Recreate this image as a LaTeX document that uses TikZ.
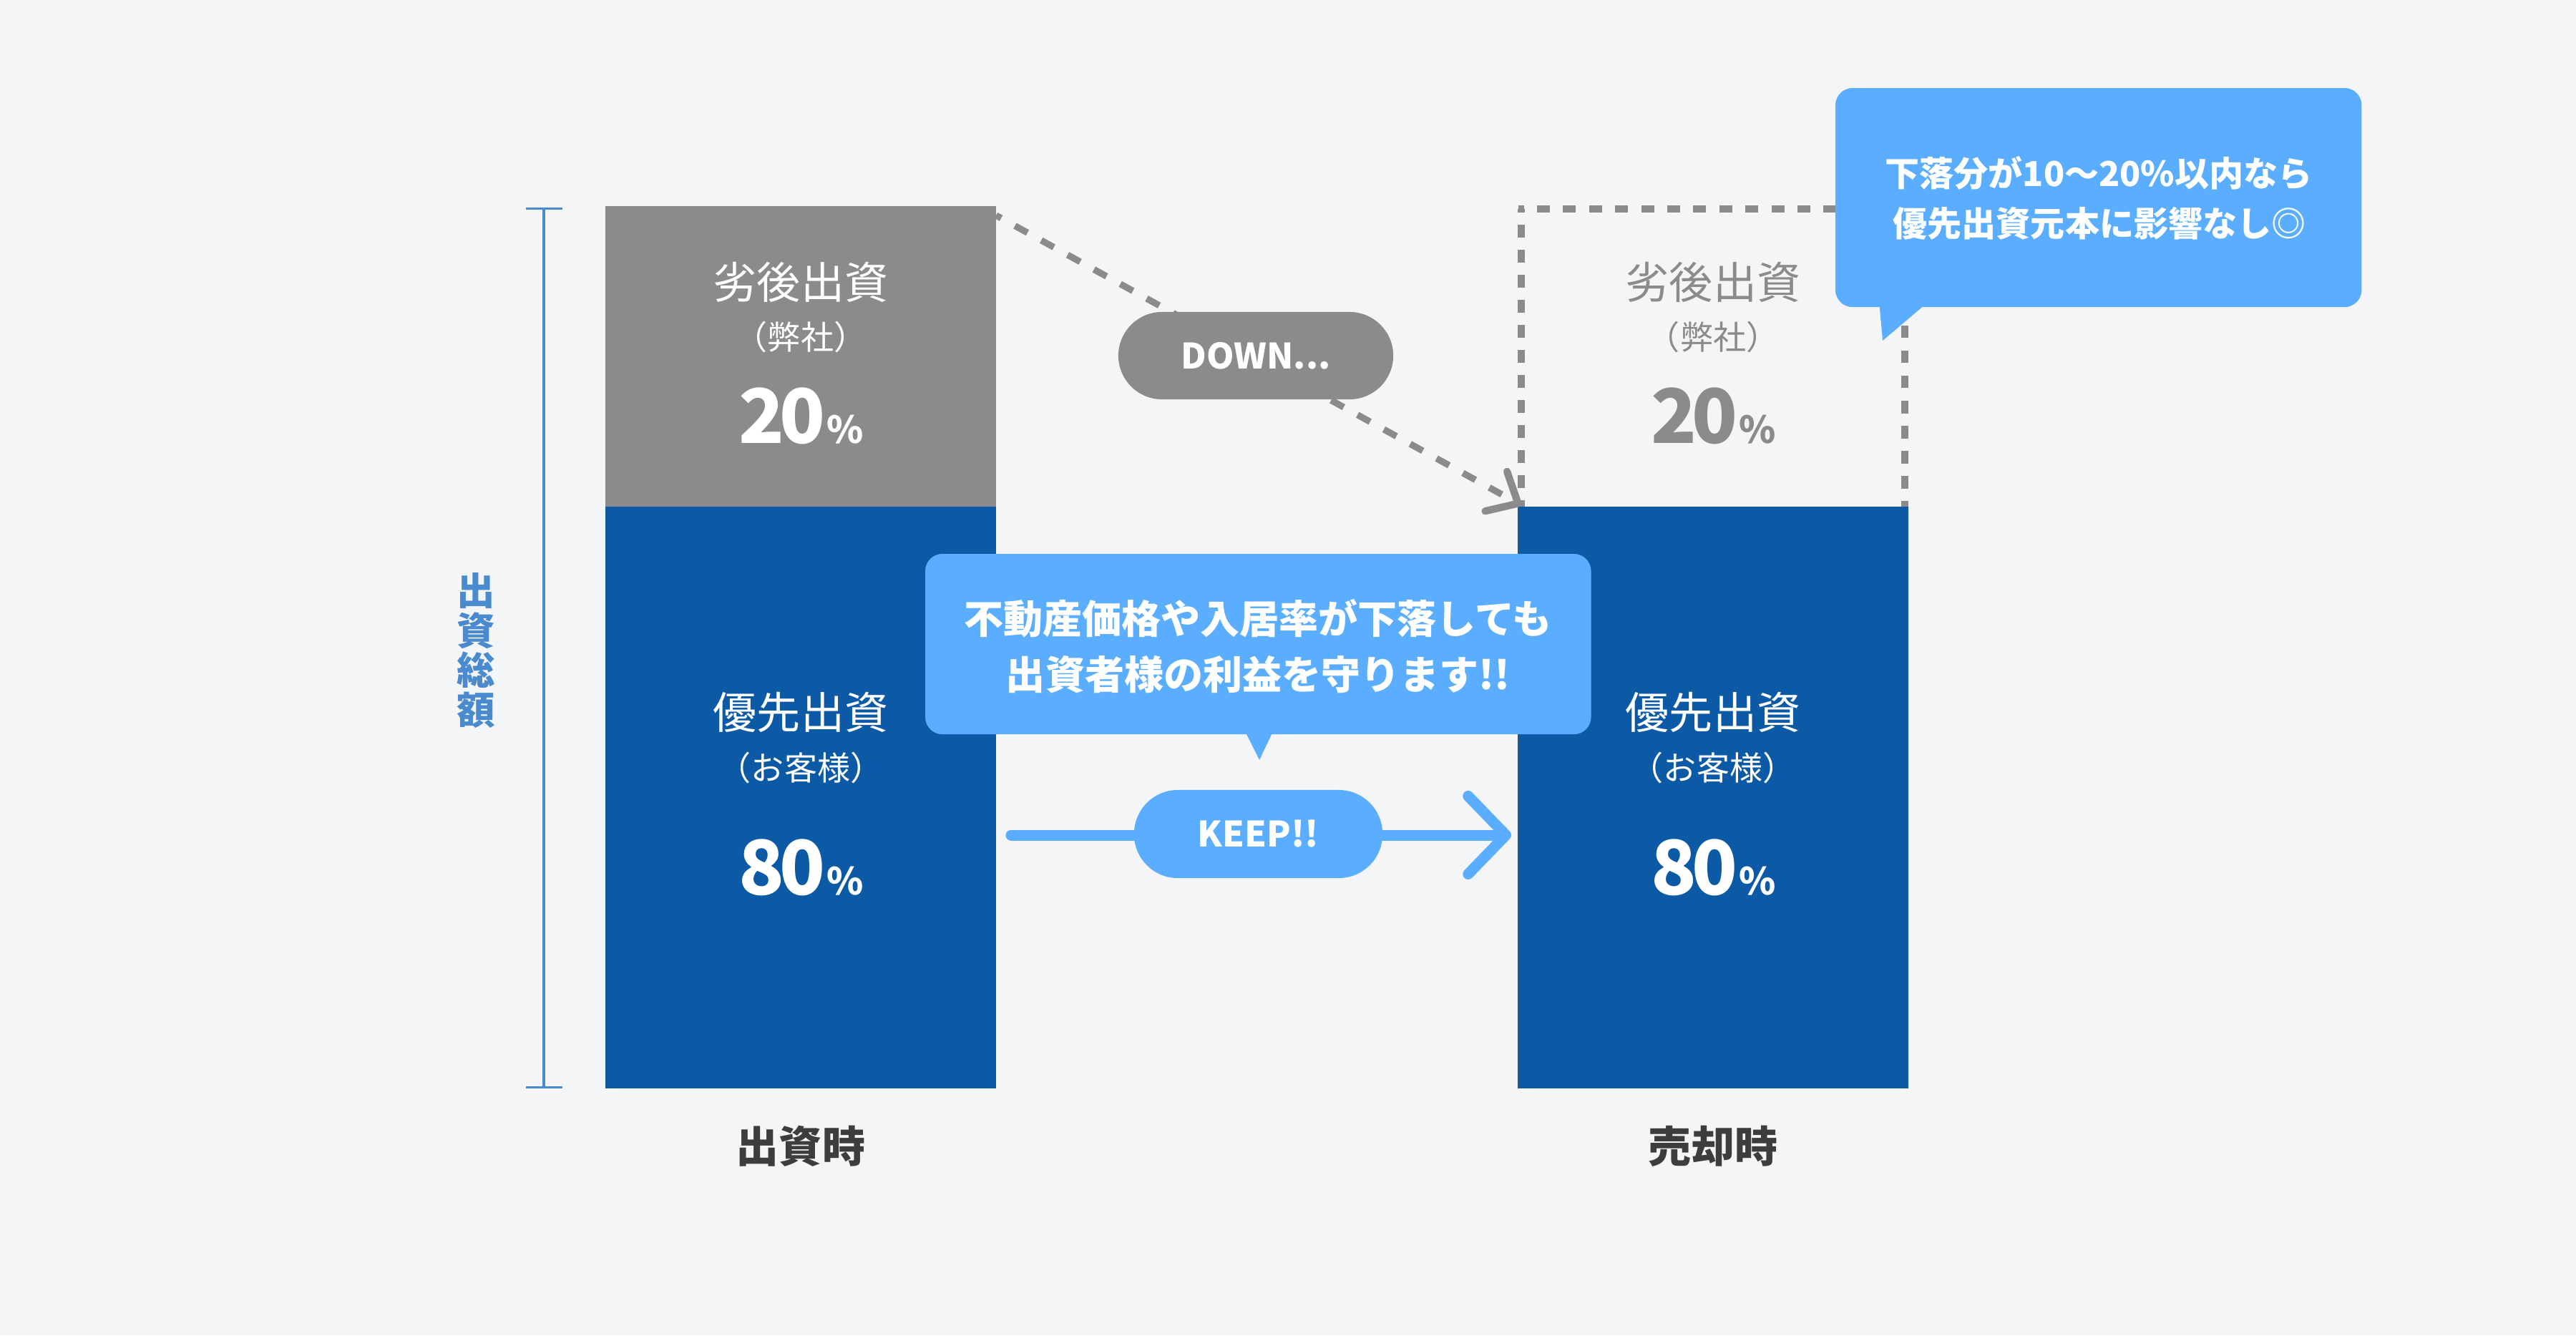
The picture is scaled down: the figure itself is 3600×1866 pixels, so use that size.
\documentclass[tikz,border=0pt]{standalone}
\usepackage{fontspec}
\setmainfont{Noto Sans CJK JP}
\usetikzlibrary{arrows.meta}
\definecolor{bgc}{HTML}{F4F5F7}
\definecolor{grayc}{HTML}{8B8B8B}
\definecolor{bluec}{HTML}{0C5AA6}
\definecolor{skyc}{HTML}{5BAEFF}
\definecolor{axisc}{HTML}{4A8BD0}
\definecolor{darkc}{HTML}{3D3D3D}
\newcommand\pxfont[1]{\fontsize{\the\dimexpr 0.28453pt*#1\relax}{\the\dimexpr 0.28453pt*#1*12/10\relax}\selectfont}
\newcommand\pct[2]{\bfseries\pxfont{105}#1\kern-2pt #2\kern0.6pt\pxfont{52}\%}
\tikzset{
  x=0.01cm,y=-0.01cm,
  lbl/.style={inner sep=0pt,outer sep=0pt,anchor=base},
  titletext/.style={lbl,font=\pxfont{61}},
  subtext/.style={lbl,font=\pxfont{46}},
  pcttext/.style={lbl},
  calloutone/.style={lbl,text=white,font=\bfseries\pxfont{55}},
  callouttwo/.style={lbl,text=white,font=\bfseries\pxfont{48.6}},
  captiontext/.style={lbl,text=darkc,font=\bfseries\pxfont{60}},
  barbox/.style={inner sep=0pt,outer sep=0pt,anchor=north west,minimum width=5.46cm},
  bubble/.style={inner sep=0pt,outer sep=0pt,anchor=north west,fill=skyc,rounded corners=0.24cm},
  pill/.style={inner sep=0pt,outer sep=0pt,text=white,font=\bfseries\pxfont{49.5},rounded corners=0.61cm},
  dashline/.style={draw=grayc,line width=2.6pt},
  sidedash/.style={dashline,dash pattern=on 5.01pt off 4.95pt},
  axisline/.style={draw=axisc,line width=0.9pt},
}
\begin{document}
\begin{tikzpicture}
\fill[bgc,use as bounding box] (0,0) rectangle (3600,1866);

% axis
\coordinate (axisTop) at (760,290);
\coordinate (axisBottom) at (760,1521);
\draw[axisline,{Bar[width=14.5pt]}-{Bar[width=14.5pt]}] (axisTop) -- (axisBottom);
\node[inner sep=0pt,text=axisc,align=center,font=\bfseries\fontsize{15.2pt}{15.9pt}\selectfont] (axisLabel) at (665,909) {出\\資\\総\\額};

% dashed outline of the right bar
\coordinate (dashA) at (2126,708);
\coordinate (dashB) at (2126,292);
\coordinate (dashB2) at (2121.5,292);
\coordinate (dashC) at (2662,292);
\coordinate (dashC2) at (2667,292);
\coordinate (dashD) at (2662,708);
\draw[sidedash,dash phase=3.7pt] (dashB) -- (dashA);
\draw[dashline,dash pattern=on 5.12pt off 5.23pt,dash phase=2.82pt] (dashB2) -- (dashC2);
\draw[sidedash,dash phase=2.73pt] (dashD) -- (dashC);

% bars
\node[barbox,fill=grayc,minimum height=4.2cm] (leftUpper) at (846,288) {};
\node[barbox,fill=bluec,minimum height=8.13cm] (leftLower) at (846,708) {};
\node[barbox,fill=bluec,minimum height=8.13cm] (rightLower) at (2121,708) {};

% connectors
\coordinate (downStart) at (1392,301);
\coordinate (downEnd) at (2126,706);
\draw[dashline,dash pattern=on 5.7pt off 6.26pt,dash phase=3.4pt,
  -{Straight Barb[length=10pt,width=18pt,line width=2.9pt,round]}] (downStart) -- (downEnd);
\coordinate (keepStart) at (1413,1167);
\coordinate (keepEnd) at (2112,1167);
\draw[draw=skyc,line width=4.27pt,line cap=round,
  -{Straight Barb[length=15pt,width=31pt,round]}] (keepStart) -- (keepEnd);

% pills
\node[pill,fill=grayc,minimum width=3.84cm,minimum height=1.22cm] (downPill) at (1755,497) {DOWN...};
\node[pill,fill=skyc,minimum width=3.47cm,minimum height=1.23cm] (keepPill) at (1758.5,1165.5) {KEEP!!};

% callouts
\fill[skyc] (1739,1020) -- (1780,1020) -- (1760,1062) -- cycle;
\node[bubble,minimum width=9.30cm,minimum height=2.52cm] (calloutMid) at (1293,774) {};
\node[calloutone] (midLineA) at (1758,885) {不動産価格や入居率が下落しても};
\node[calloutone] (midLineB) at (1758,963) {出資者様の利益を守ります!!};
\fill[skyc] (2626,420) -- (2697,420) -- (2631,476) -- cycle;
\node[bubble,minimum width=7.35cm,minimum height=3.06cm] (calloutTop) at (2565,123) {};
\node[callouttwo] (topLineA) at (2933,260) {下落分が10〜20\%以内なら};
\node[callouttwo] (topLineB) at (2934,330) {優先出資元本に影響なし◎};

% left bar text
\node[titletext,text=white] (leftA) at (1119,417) {劣後出資};
\node[subtext,text=white] (leftB) at (1119,488) {（弊社）};
\node[pcttext,text=white] (leftC) at (1120,619) {\pct{2}{0}};
\node[titletext,text=white] (leftD) at (1119,1018) {優先出資};
\node[subtext,text=white] (leftE) at (1119,1090) {（お客様）};
\node[pcttext,text=white] (leftF) at (1120,1250) {\pct{8}{0}};
\node[captiontext] (leftCap) at (1119,1624) {出資時};

% right bar text
\node[titletext,text=grayc] (rightA) at (2394,417) {劣後出資};
\node[subtext,text=grayc] (rightB) at (2394,488) {（弊社）};
\node[pcttext,text=grayc] (rightC) at (2395,619) {\pct{2}{0}};
\node[titletext,text=white] (rightD) at (2394,1018) {優先出資};
\node[subtext,text=white] (rightE) at (2394,1090) {（お客様）};
\node[pcttext,text=white] (rightF) at (2395,1250) {\pct{8}{0}};
\node[captiontext] (rightCap) at (2394,1624) {売却時};
\end{tikzpicture}
\end{document}
